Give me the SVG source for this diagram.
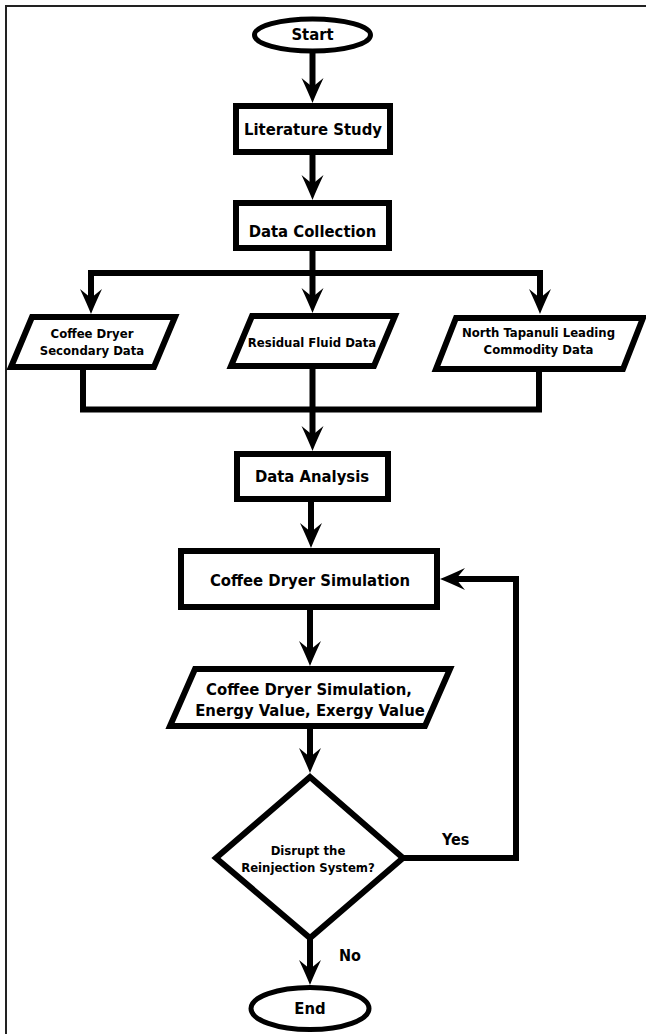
<svg xmlns="http://www.w3.org/2000/svg" width="646" height="1034" viewBox="0 0 646 1034">
<style>
.shape{fill:#fff;stroke:#000;stroke-width:6;stroke-linejoin:miter}
.oval{fill:#fff;stroke:#000;stroke-width:5}
.conn{fill:none;stroke:#000;stroke-width:6;stroke-linejoin:miter}
text{font-family:"DejaVu Sans Condensed","DejaVu Sans",sans-serif;font-weight:bold;fill:#000;text-anchor:middle}
.big{font-size:16.5px}
.small{font-size:13px}
.lbl{font-size:16px;text-anchor:start}
</style>
<defs>
<marker id="ah" markerUnits="userSpaceOnUse" viewBox="-26 -12 27 24" refX="-16" refY="0" markerWidth="27" markerHeight="24" orient="auto-start-reverse">
<path d="M0,0 Q-10,-4 -25,-11 L-16,0 L-25,11 Q-10,4 0,0 Z" fill="#000"/>
</marker>
</defs>
<rect width="646" height="1034" fill="#fff"/>
<path d="M6,1034 V6 H646" fill="none" stroke="#222" stroke-width="2"/>
<g id="connectors">
<path class="conn" d="M312.5,53 V87" marker-end="url(#ah)"/>
<path class="conn" d="M312.5,155 V184" marker-end="url(#ah)"/>
<path class="conn" d="M312.5,251 V297" marker-end="url(#ah)"/>
<path class="conn" d="M91,298 V273 H540 V298" marker-start="url(#ah)" marker-end="url(#ah)"/>
<path class="conn" d="M83,367 V409.5 H539 V369"/>
<path class="conn" d="M312.5,366 V435" marker-end="url(#ah)"/>
<path class="conn" d="M311,502 V532" marker-end="url(#ah)"/>
<path class="conn" d="M310,610 V650" marker-end="url(#ah)"/>
<path class="conn" d="M310,729 V757" marker-end="url(#ah)"/>
<path class="conn" d="M403,858 H516 V579 H456" marker-end="url(#ah)"/>
<path class="conn" d="M310,938 V969" marker-end="url(#ah)"/>
<text class="lbl" x="442" y="845">Yes</text>
<text class="lbl" x="339" y="961">No</text>
</g>
<g id="start">
<ellipse class="oval" cx="312.5" cy="35" rx="58" ry="16"/>
<text class="big" x="312.5" y="40">Start</text>
</g>
<g id="literature">
<rect class="shape" x="236" y="106" width="154" height="46"/>
<text class="big" x="313" y="135">Literature Study</text>
</g>
<g id="collection">
<rect class="shape" x="236" y="203" width="153" height="45"/>
<text class="big" x="312.5" y="237">Data Collection</text>
</g>
<g id="coffee-secondary">
<polygon class="shape" points="32,317 175,317 154,367 11,367"/>
<text class="small" x="92" y="338">Coffee Dryer</text>
<text class="small" x="92" y="355">Secondary Data</text>
</g>
<g id="residual">
<polygon class="shape" points="252,316 395,316 374,366 231,366"/>
<text class="small" x="312" y="347">Residual Fluid Data</text>
</g>
<g id="commodity">
<polygon class="shape" points="456,318 643,318 623,369 436,369"/>
<text class="small" x="538.5" y="337">North Tapanuli Leading</text>
<text class="small" x="538.5" y="354">Commodity Data</text>
</g>
<g id="analysis">
<rect class="shape" x="237" y="454" width="151" height="45"/>
<text class="big" x="312" y="482">Data Analysis</text>
</g>
<g id="simulation">
<rect class="shape" x="181" y="551" width="256" height="56"/>
<text class="big" x="310" y="586">Coffee Dryer Simulation</text>
</g>
<g id="values">
<polygon class="shape" points="195,669 450,669 425,726 170,726"/>
<text class="big" x="309" y="695">Coffee Dryer Simulation,</text>
<text class="big" x="310" y="716">Energy Value, Exergy Value</text>
</g>
<g id="decision">
<polygon class="shape" points="310,777 403,858 310,938 216,858"/>
<text class="small" x="308" y="855">Disrupt the</text>
<text class="small" x="308" y="872">Reinjection System?</text>
</g>
<g id="end">
<ellipse class="oval" cx="310" cy="1008.5" rx="59" ry="21"/>
<text class="big" x="310" y="1014">End</text>
</g>
</svg>
